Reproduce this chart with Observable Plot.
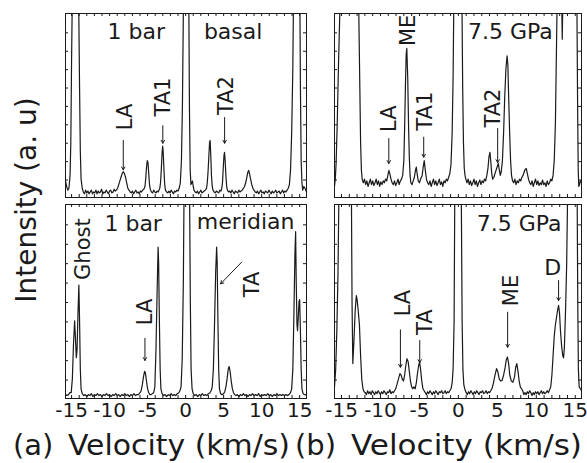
<!DOCTYPE html>
<html><head><meta charset="utf-8">
<script src="https://cdn.jsdelivr.net/npm/d3@7"></script>
<script src="https://cdn.jsdelivr.net/npm/@observablehq/plot@0.6"></script>
<style>
body{margin:0;background:#fff;}
#chart{position:relative;width:587px;height:463px;overflow:hidden;background:#fff;font-family:"DejaVu Sans",sans-serif;color:#1a1a1a;}
#chart > svg{position:absolute;}
</style></head><body><div id="chart"></div>
<script>
// ---- tick values ----
const xTickLabels = [-15, -10, -5, 0, 5, 10, 15];
const xMinorTicks = [-15,-14,-13,-12,-11,-10,-9,-8,-7,-6,-5,-4,-3,-2,-1,0,1,2,3,4,5,6,7,8,9,10,11,12,13,14,15];
const yTicks = [9.5, 19.5, 29.5, 39.5, 49.5, 59.5, 69.5, 79.5, 89.5];

// ---- spectra: [velocity km/s, intensity a.u. (0-100 = panel height)] ----
const spectrumATop = [[-15.8,9],[-15.65,6],[-15.5,4],[-15.35,5],[-15.2,12],[-15.1,30],[-15.0,75],[-14.93,100],[-14.7,180],[-14.5,220],[-14.3,180],[-14.05,100],[-13.95,60],[-13.85,25],[-13.75,10],[-13.6,5],
[-13.45,3],[-13.3,2],[-13.15,4],[-13.0,2.5],[-12.85,3.5],[-12.7,2],[-12.55,3],[-12.4,4],[-12.25,2],[-12.1,3],[-11.95,2.5],[-11.8,4],[-11.65,2],[-11.5,3.5],[-11.35,2.5],[-11.2,3],[-11.05,4.5],[-10.9,2],[-10.75,3],[-10.6,2.5],[-10.45,4],[-10.3,3],[-10.15,2],[-10.0,3.5],[-9.85,4],[-9.7,2.5],[-9.55,3],[-9.4,4.5],[-9.25,3.5],
[-9.1,4],[-8.95,5],[-8.8,7],[-8.65,9],[-8.5,11],[-8.35,13],[-8.2,14],[-8.05,13],[-7.9,11],[-7.75,8],[-7.6,5],[-7.45,4],
[-7.3,3],[-7.15,2.5],[-7.0,3.5],[-6.85,2],[-6.7,3],[-6.55,4],[-6.4,2.5],[-6.25,3],[-6.1,2],[-5.95,3.5],[-5.8,3],[-5.65,4],[-5.5,4.5],
[-5.35,6],[-5.25,10],[-5.15,16],[-5.05,20],[-4.95,19],[-4.85,13],[-4.75,7],[-4.65,4.5],
[-4.5,3],[-4.35,2.5],[-4.2,4],[-4.05,3],[-3.9,2.5],[-3.75,3.5],[-3.6,3],[-3.5,4],
[-3.4,5],[-3.3,8],[-3.2,15],[-3.1,24],[-3.02,28],[-2.95,25],[-2.85,15],[-2.75,7],[-2.65,4],
[-2.5,3],[-2.35,2.5],[-2.2,3.5],[-2.05,2.5],[-1.9,4],[-1.75,3],[-1.6,2],[-1.45,3.5],[-1.3,3],[-1.15,4],[-1.0,3.5],[-0.85,5],[-0.7,8],[-0.55,20],[-0.42,50],[-0.3,100],[-0.1,300],[0.1,300],[0.43,100],[0.5,50],[0.6,15],[0.7,7],[0.8,8],[0.9,9],[1.0,6],[1.1,4],
[1.25,3],[1.4,2.5],[1.55,3.5],[1.7,2],[1.85,3],[2.0,4],[2.15,2.5],[2.3,3],[2.45,3.5],[2.6,4],[2.75,5],
[2.85,8],[2.95,14],[3.05,22],[3.15,30],[3.22,31],[3.3,24],[3.4,12],[3.5,6],[3.6,4],
[3.75,3],[3.9,2.5],[4.05,3.5],[4.2,3],[4.35,2.5],[4.5,4],[4.65,3.5],[4.75,5],
[4.85,8],[4.95,16],[5.05,23],[5.12,24.5],[5.2,20],[5.3,12],[5.4,6],[5.5,4],
[5.65,3],[5.8,3.5],[5.95,2.5],[6.1,4],[6.25,3],[6.4,2],[6.55,3.5],[6.7,3],[6.85,2.5],[7.0,4],[7.15,3],[7.3,3.5],[7.45,4],[7.6,5],
[7.75,6],[7.9,8],[8.05,11],[8.2,14],[8.3,14.7],[8.4,13],[8.55,10],[8.7,7],[8.85,5],[9.0,4],
[9.15,3],[9.3,2.5],[9.45,3.5],[9.6,2],[9.75,3],[9.9,4],[10.05,2.5],[10.2,3],[10.35,2],[10.5,3.5],[10.65,3],[10.8,2.5],[10.95,4],[11.1,3],[11.25,2],[11.4,3.5],[11.55,2.5],[11.7,3],[11.85,4],[12.0,2.5],[12.15,3],[12.3,3.5],[12.45,2],[12.6,3],[12.75,4],[12.9,2.5],[13.05,3.5],[13.2,3],[13.35,4],[13.5,5],[13.65,7],
[13.8,15],[13.95,35],[14.1,70],[14.17,100],[14.4,200],[14.6,250],[14.8,200],[15.04,100],[15.1,60],[15.2,20],[15.3,8],[15.4,4],[15.55,6],[15.7,5],[15.9,3]];

const spectrumABottom = [[-15.8,2],[-15.6,1.5],[-15.4,2],[-15.25,3],
[-15.05,3],[-14.9,10],[-14.75,28],[-14.6,40],[-14.5,32],[-14.38,21],[-14.28,25],[-14.15,45],[-14.04,58.5],[-13.95,40],[-13.85,15],[-13.75,5],[-13.6,2.5],
[-13.4,1.5],[-13.2,2],[-13.0,1],[-12.8,2],[-12.6,1.5],[-12.4,2.5],[-12.2,1],[-12.0,2],[-11.8,1.5],[-11.6,2.5],[-11.4,1.5],[-11.2,2],[-11.0,1],[-10.8,2],[-10.6,1.5],[-10.4,2.5],[-10.2,1.5],[-10.0,2],[-9.8,1],[-9.6,2],[-9.4,1.5],[-9.2,2.5],[-9.0,1.5],[-8.8,2],[-8.6,1],[-8.4,2],[-8.2,1.5],[-8.0,2.5],[-7.8,1.5],[-7.6,2],[-7.4,1],[-7.2,2],[-7.0,1.5],[-6.8,2.5],[-6.6,1.5],[-6.4,2],[-6.2,2],[-6.0,3],
[-5.85,4],[-5.7,7],[-5.55,11],[-5.4,14],[-5.3,13.5],[-5.15,9],[-5.0,5],[-4.85,3],[-4.7,2],[-4.55,2],[-4.4,2.5],[-4.2,3],
[-4.05,6],[-3.9,25],[-3.75,55],[-3.62,78],[-3.55,70],[-3.45,40],[-3.35,15],[-3.25,5],[-3.1,2.5],
[-2.9,1.5],[-2.7,2],[-2.5,1],[-2.3,2],[-2.1,1.5],[-1.9,2.5],[-1.7,1.5],[-1.5,2],[-1.3,1.5],[-1.1,2.5],[-0.9,3],[-0.75,4],
[-0.6,6],[-0.45,20],[-0.3,60],[-0.22,100],[0.1,300],[0.53,100],[0.62,50],[0.72,15],[0.85,5],[1.0,2.5],
[1.2,1.5],[1.4,2],[1.6,1],[1.8,2],[2.0,1.5],[2.2,2.5],[2.4,1.5],[2.6,2],[2.8,1.5],[3.0,2.5],[3.2,3],[3.35,4],
[3.5,6],[3.65,15],[3.8,38],[3.95,65],[4.08,78],[4.15,70],[4.25,40],[4.35,15],[4.45,5],[4.6,2.5],
[4.8,2],[5.0,2.5],[5.15,3.5],
[5.3,6],[5.45,10],[5.6,15],[5.72,16.5],[5.85,14],[6.0,9],[6.15,5],[6.3,3],[6.45,2],
[6.6,1.5],[6.8,2],[7.0,1],[7.2,2],[7.4,1.5],[7.6,2.5],[7.8,1.5],[8.0,2],[8.2,1],[8.4,2],[8.6,1.5],[8.8,2.5],[9.0,1.5],[9.2,2],[9.4,1.5],[9.6,2.5],[9.8,1],[10.0,2],[10.2,1.5],[10.4,2],[10.6,1.5],[10.8,2.5],[11.0,1.5],[11.2,2],[11.4,1],[11.6,2],[11.8,1.5],[12.0,2.5],[12.2,1.5],[12.4,2],[12.6,1.5],[12.8,2],[13.0,1.5],[13.2,2],[13.4,1.5],[13.6,2],[13.8,3],[13.95,5],
[14.1,15],[14.25,45],[14.38,75],[14.47,86],[14.55,60],[14.65,38],[14.72,35],[14.82,42],[14.92,50],[15.0,51],[15.1,35],[15.2,15],[15.3,5],[15.45,2.5],[15.6,2],[15.9,2]];

const spectrumBTop = [[-15.9,6],[-15.8,10],[-15.7,18],[-15.55,40],[-15.4,70],[-15.22,100],[-14.5,250],[-13.5,250],[-12.78,100],[-12.65,60],[-12.55,30],[-12.45,15],[-12.35,10],
[-12.2,8],[-12.05,10],[-11.9,7],[-11.75,9],[-11.6,6],[-11.45,8],[-11.3,10],[-11.15,7],[-11.0,9],[-10.85,6.5],[-10.7,8],[-10.55,10],[-10.4,7],[-10.25,9],[-10.1,6],[-9.95,8.5],[-9.8,7],[-9.65,9],[-9.5,8],[-9.35,10],
[-9.2,9],[-9.05,12],[-8.92,14.7],[-8.8,13],[-8.65,10],[-8.5,8],[-8.35,7],[-8.2,9],[-8.05,6.5],[-7.9,8],[-7.75,10],[-7.6,7],[-7.45,9],[-7.3,10],
[-7.15,12],[-7.0,20],[-6.9,38],[-6.8,60],[-6.7,78],[-6.62,81],[-6.5,65],[-6.4,40],[-6.3,22],[-6.2,12],[-6.1,8],[-5.95,7],[-5.8,9],
[-5.65,11],[-5.5,15],[-5.4,16.5],[-5.3,13],[-5.15,9],[-5.0,8],[-4.85,10],
[-4.65,12],[-4.5,17],[-4.38,20],[-4.25,15],[-4.1,10],[-3.95,8],
[-3.8,7],[-3.65,9],[-3.5,6],[-3.35,8],[-3.2,10],[-3.05,7],[-2.9,9],[-2.75,6.5],[-2.6,8],[-2.45,10],[-2.3,7],[-2.15,8.5],[-2.0,6],[-1.85,9],[-1.7,8],[-1.55,10],[-1.4,9],
[-1.25,11],[-1.1,13],[-0.95,18],[-0.8,35],[-0.68,65],[-0.6,100],[0,300],[0.47,100],[0.55,60],[0.65,30],[0.75,16],[0.85,12],[0.95,10],
[1.1,8],[1.25,10],[1.4,7],[1.55,9],[1.7,6.5],[1.85,8],[2.0,10],[2.15,7],[2.3,9],[2.45,6],[2.6,8],[2.75,9.5],[2.9,7],[3.05,9],[3.2,8],[3.35,10],[3.5,9],[3.65,12],
[3.8,16],[3.92,22],[4.05,24.6],[4.15,20],[4.28,13],[4.4,10],[4.55,11],
[4.7,13],[4.85,15],[5.0,17],[5.12,18.5],[5.25,15],[5.38,12],
[5.5,14],[5.65,20],[5.8,35],[5.95,55],[6.1,70],[6.25,77],[6.35,72],[6.45,55],[6.58,35],[6.7,20],[6.82,12],[6.95,9],
[7.1,8],[7.25,10],[7.4,7],[7.55,9],[7.7,8],[7.85,10],[8.0,9],[8.15,11],
[8.3,12],[8.45,14],[8.6,15.5],[8.72,15.7],[8.85,13],[9.0,10],[9.15,8],
[9.3,7],[9.45,9],[9.6,6],[9.75,8],[9.9,10],[10.05,7],[10.2,9],[10.35,6.5],[10.5,8],[10.65,7],[10.8,9.5],[10.95,7],[11.1,8],[11.25,6],[11.4,9],[11.55,7],[11.7,8],[11.85,10],[12.0,9],
[12.15,12],[12.3,20],[12.45,40],[12.55,70],[12.65,100],[13.0,200],[13.25,110],[13.33,86],[13.41,110],[14.2,250],[15.22,100],[15.3,50],[15.38,15],[15.45,6],[15.55,7],[15.65,9],[15.8,8]];

const spectrumBBottom = [[-15.9,6],[-15.75,15],[-15.6,35],[-15.45,65],[-15.35,100],[-14.5,300],[-13.72,100],
[-13.65,50],[-13.55,18],[-13.4,30],[-13.25,45],[-13.1,53],[-13.0,51],[-12.85,45],[-12.7,38],[-12.55,22],[-12.4,10],[-12.25,5],[-12.1,3.5],
[-11.95,3],[-11.8,2],[-11.65,4],[-11.5,2.5],[-11.35,3.5],[-11.2,2],[-11.05,4],[-10.9,3],[-10.75,2],[-10.6,3.5],[-10.45,2.5],[-10.3,4],[-10.15,3],[-10.0,2],[-9.85,3.5],[-9.7,2.5],[-9.55,4],[-9.4,3],[-9.25,2],[-9.1,3.5],[-8.95,3],[-8.8,4.5],[-8.65,2.5],[-8.5,3.5],[-8.35,3],[-8.2,4],[-8.05,5],
[-7.9,7],[-7.7,10],[-7.5,12.8],[-7.35,12],[-7.2,10],[-7.05,9],[-6.9,12],[-6.75,17],[-6.6,20.5],[-6.45,19],[-6.3,14],[-6.15,9],[-6.0,6],[-5.85,5],[-5.7,6],[-5.55,5],[-5.4,8],[-5.25,13],[-5.1,17],[-4.98,18.8],[-4.85,15],[-4.7,9],[-4.55,5],[-4.4,4],
[-4.25,3],[-4.1,2],[-3.95,3.5],[-3.8,2.5],[-3.65,4],[-3.5,3],[-3.35,2],[-3.2,3.5],[-3.05,2.5],[-2.9,4],[-2.75,3],[-2.6,2],[-2.45,3.5],[-2.3,3],[-2.15,4],[-2.0,2.5],[-1.85,3],[-1.7,4],[-1.55,2.5],[-1.4,3.5],[-1.25,3],[-1.1,4],
[-0.95,5],[-0.8,8],[-0.68,15],[-0.55,40],[-0.47,100],[0,300],[0.38,100],[0.48,40],[0.58,15],[0.7,7],[0.85,4.5],
[1.0,3],[1.15,2],[1.3,3.5],[1.45,2.5],[1.6,4],[1.75,3],[1.9,2],[2.05,3.5],[2.2,2.5],[2.35,4],[2.5,3],[2.65,2],[2.8,3.5],[2.95,3],[3.1,4],[3.25,2.5],[3.4,3],[3.55,4],[3.7,2.5],[3.85,3.5],[4.0,3],[4.15,4],[4.3,5],
[4.5,8],[4.7,12],[4.9,15.4],[5.05,14],[5.25,10],[5.45,9],[5.6,9.3],[5.8,12],[6.0,16],[6.15,20],[6.3,21.4],[6.45,18],[6.6,12],[6.8,9],[7.0,8.4],[7.2,11],[7.35,16],[7.5,18],[7.65,14],[7.8,9],[7.95,6],[8.1,5],[8.25,4],
[8.4,2],[8.55,3],[8.7,2],[8.85,3.5],[9.0,2.5],[9.15,4],[9.3,3],[9.45,1.5],[9.6,3],[9.75,2],[9.9,3.5],[10.05,2.5],[10.2,3.5],[10.35,2],[10.5,3],[10.65,4],[10.8,2.5],[10.95,3.5],[11.1,2.5],[11.25,3],[11.4,4],[11.55,3],[11.7,4.5],
[11.85,6],[12.0,12],[12.15,22],[12.3,32],[12.45,38],[12.6,42],[12.75,46],[12.86,48],[12.98,44],[13.1,35],[13.25,27],[13.4,22],[13.5,21],[13.6,26],[13.75,45],[13.9,70],[14.0,100],[14.6,300],[15.25,100],[15.32,50],[15.4,15],[15.5,6],[15.65,5],[15.8,4]];

// ---- annotations (velocity, intensity) ----
const labelsATop = [
  {text:"1 bar", v:-6.5, i:89.7, rot:false},
  {text:"basal", v:6.25, i:89.7, rot:false},
  {text:"LA", v:-7.9, i:43.8, rot:true},
  {text:"TA1", v:-2.96, i:54.6, rot:true},
  {text:"TA2", v:5.33, i:55.4, rot:true}];
const arrowsATop = [
  {v1:-8.2, i1:31, v2:-8.2, i2:15},
  {v1:-3.0, i1:39, v2:-3.0, i2:29.5},
  {v1:5.13, i1:43.5, v2:5.13, i2:29.5}];
const labelsABottom = [
  {text:"Ghost", v:-13.5, i:77, rot:true},
  {text:"1 bar", v:-6.9, i:90, rot:false},
  {text:"meridian", v:7.9, i:91, rot:false},
  {text:"LA", v:-5.33, i:44.6, rot:true},
  {text:"TA", v:8.75, i:58.8, rot:true}];
const arrowsABottom = [
  {v1:-5.35, i1:31, v2:-5.35, i2:19.6},
  {v1:7.37, i1:70.3, v2:4.6, i2:59.1}];
const labelsBTop = [
  {text:"ME", v:-6.47, i:90.8, rot:true},
  {text:"7.5 GPa", v:6.67, i:90, rot:false},
  {text:"LA", v:-8.93, i:42.8, rot:true},
  {text:"TA1", v:-4.23, i:46.9, rot:true},
  {text:"TA2", v:4.42, i:48.6, rot:true}];
const arrowsBTop = [
  {v1:-8.93, i1:32, v2:-8.93, i2:18.5},
  {v1:-4.45, i1:32.8, v2:-4.45, i2:21.9},
  {v1:5.04, i1:37.5, v2:5.04, i2:19}];
const labelsBBottom = [
  {text:"7.5 GPa", v:7.8, i:90, rot:false},
  {text:"LA", v:-7.05, i:49.2, rot:true},
  {text:"TA", v:-4.23, i:39.3, rot:true},
  {text:"ME", v:6.77, i:55.7, rot:true},
  {text:"D", v:12.1, i:67.3, rot:false}];
const arrowsBBottom = [
  {v1:-7.44, i1:35.4, v2:-7.44, i2:16.1},
  {v1:-4.96, i1:29.9, v2:-4.96, i2:18.5},
  {v1:6.32, i1:44.5, v2:6.32, i2:26.4},
  {v1:12.86, i1:60.8, v2:12.86, i2:50.5}];

// ---- layout ----
const ink = "#1a1a1a";
const panels = [
  {data: spectrumATop, labels: labelsATop, arrows: arrowsATop, domain:[-15.8, 15.9], frame:{left:65, top:13, right:306, bottom:197}, axis:false},
  {data: spectrumABottom, labels: labelsABottom, arrows: arrowsABottom, domain:[-15.8, 15.9], frame:{left:65, top:204, right:306, bottom:398}, axis:true},
  {data: spectrumBTop, labels: labelsBTop, arrows: arrowsBTop, domain:[-15.9, 15.8], frame:{left:334, top:13, right:581, bottom:197}, axis:false},
  {data: spectrumBBottom, labels: labelsBBottom, arrows: arrowsBBottom, domain:[-15.9, 15.8], frame:{left:334, top:204, right:581, bottom:398}, axis:true}
];

const chart = document.getElementById("chart");

for (const p of panels) {
  const W = p.frame.right - p.frame.left, H = p.frame.bottom - p.frame.top;
  const mL = p.axis ? 22 : 1;
  const mR = p.axis ? Math.min(22, 587 - p.frame.right) : 1;
  const mT = 1, mB = p.axis ? 32 : 1;
  const marks = [
    Plot.line(p.data, {x: d => d[0], y: d => d[1], stroke: ink, strokeWidth: 1.2, clip: true}),
    Plot.tickX(xMinorTicks, {x: d => d, insetTop: H - 3, stroke: ink}),
    Plot.tickX(xMinorTicks, {x: d => d, insetBottom: H - 3, stroke: ink}),
    Plot.tickY(yTicks, {y: d => d, insetRight: W - 3, stroke: ink}),
    Plot.tickY(yTicks, {y: d => d, insetLeft: W - 3, stroke: ink}),
    Plot.arrow(p.arrows, {x1: "v1", y1: "i1", x2: "v2", y2: "i2", stroke: ink, strokeWidth: 1, headLength: 5}),
    Plot.text(p.labels.filter(d => d.rot), {x: "v", y: "i", text: "text", rotate: -90, fontSize: 21, fill: ink}),
    Plot.text(p.labels.filter(d => !d.rot), {x: "v", y: "i", text: "text", fontSize: 22, fill: ink}),
    Plot.frame({stroke: ink, strokeWidth: 1})
  ];
  if (p.axis) {
    marks.push(Plot.axisX(xTickLabels, {anchor: "bottom", tickSize: 0, tickPadding: 4, tickFormat: d => String(d), fontSize: 20, fill: ink, label: null}));
  }
  const svg = Plot.plot({
    width: W + mL + mR,
    height: H + mT + mB,
    marginLeft: mL, marginRight: mR, marginTop: mT, marginBottom: mB,
    x: {domain: p.domain, axis: null, label: null},
    y: {domain: [0, 100], axis: null, label: null},
    style: {background: "transparent", fontFamily: "DejaVu Sans, sans-serif", fontSize: "20px", color: ink, overflow: "visible"},
    marks
  });
  svg.style.position = "absolute";
  svg.style.left = (p.frame.left - mL) + "px";
  svg.style.top = (p.frame.top - mT) + "px";
  svg.style.maxWidth = "none";
  chart.appendChild(svg);
}

// ---- axis titles ----
const overlay = d3.create("svg").attr("width", 587).attr("height", 463)
  .style("position", "absolute").style("left", "0px").style("top", "0px")
  .style("pointer-events", "none").style("overflow", "visible")
  .attr("font-family", "DejaVu Sans, sans-serif").attr("fill", ink);
overlay.append("text").attr("transform", "translate(35.5,200) rotate(-90)")
  .attr("text-anchor", "middle").attr("font-size", 28).text("Intensity (a. u)");
overlay.append("text").attr("x", 13).attr("y", 455).attr("font-size", 29).text("(a)");
overlay.append("text").attr("x", 68).attr("y", 455).attr("font-size", 29)
  .attr("textLength", 222).attr("lengthAdjust", "spacingAndGlyphs").text("Velocity (km/s)");
overlay.append("text").attr("x", 295).attr("y", 455).attr("font-size", 29).text("(b)");
overlay.append("text").attr("x", 351).attr("y", 455).attr("font-size", 29)
  .attr("textLength", 231).attr("lengthAdjust", "spacingAndGlyphs").text("Velocity (km/s)");
chart.appendChild(overlay.node());
</script></body></html>
